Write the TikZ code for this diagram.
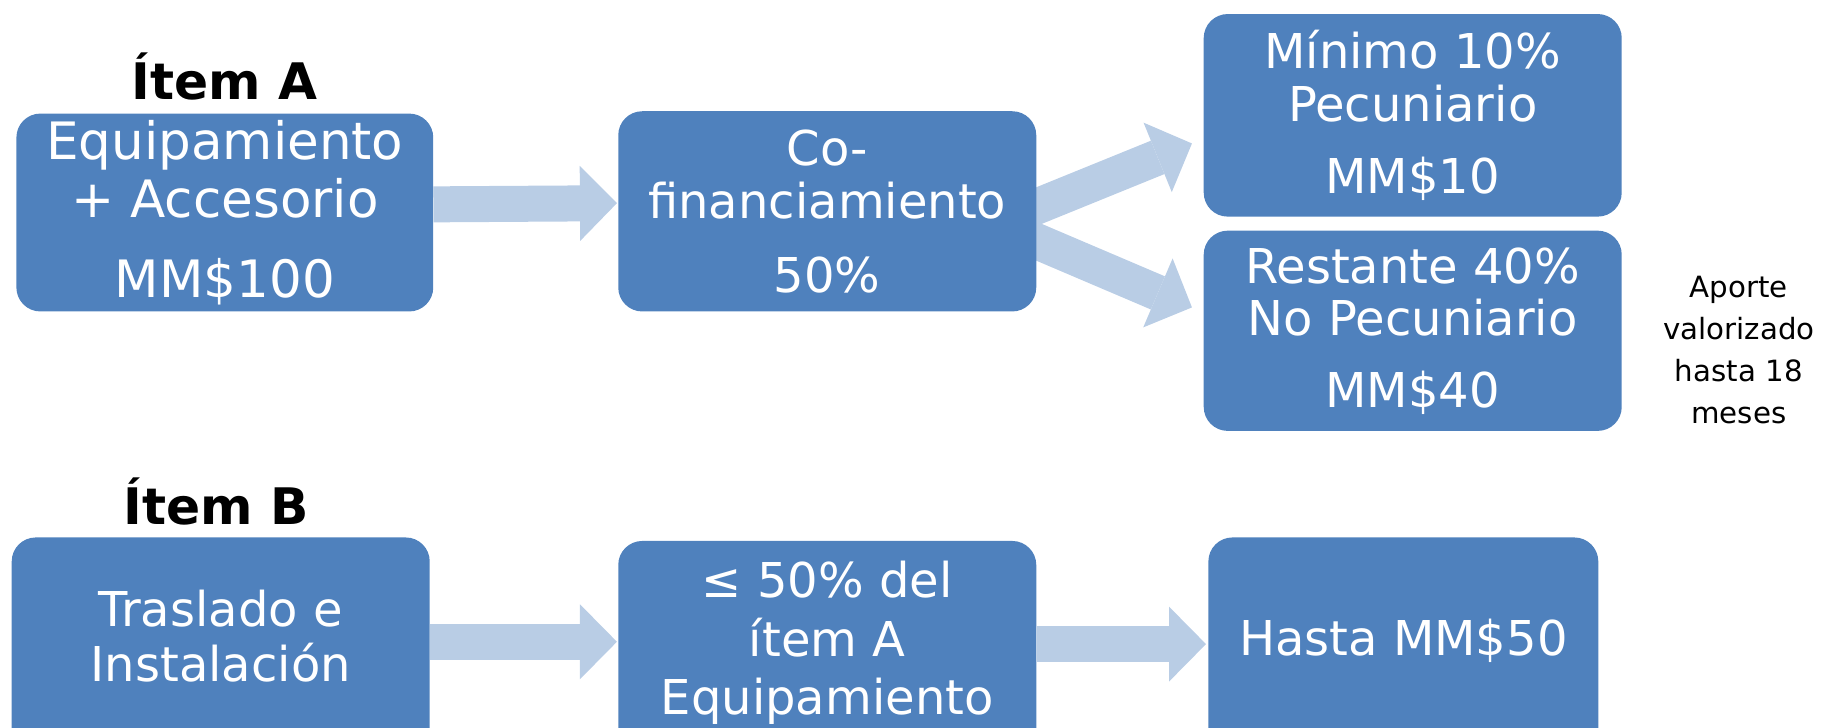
\documentclass[tikz,border=0pt]{standalone}
\usepackage{fontspec}
\setmainfont{DejaVu Sans}
\usetikzlibrary{arrows.meta,calc,backgrounds}
\definecolor{boxblue}{HTML}{4F81BD}
\definecolor{arrowblue}{HTML}{B9CDE5}
\begin{document}
\begin{tikzpicture}[x=1pt,y=-1pt,scale=1.171,
  every node/.append style={transform shape},
  box/.style={fill=boxblue, rounded corners=24pt, inner sep=0pt, text=white,
    align=center, font=\fontsize{41}{45}\selectfont},
  boxtext/.style={text=white, align=center, inner sep=0pt, font=\fontsize{41}{50}\selectfont},
  title/.style={font=\fontsize{43}{46}\selectfont\bfseries, inner sep=0pt},
  note/.style={align=center, inner sep=0pt, font=\fontsize{25}{36}\selectfont},
  fatarrow/.style={draw=arrowblue, line width=36pt,
    -{Triangle[width=75pt,length=37pt,line width=0pt]}}]
\useasboundingbox (0,0) rectangle (1568,621.7);
\clip (0,0) rectangle (1568,621.7);
% titles
\node[title] (tA) at (192,65) {Ítem A};
\node[title] (tB) at (185,428) {Ítem B};
% row A
\node[box, font=\fontsize{44}{50}\selectfont, minimum width=356pt, minimum height=169pt] (a1) at (192,181.5)
  {Equipamiento\\+ Accesorio\\[18pt]MM\$100};
\node[box, minimum width=357pt, minimum height=171pt] (a2) at (706.5,180.5)
  {Co-\\financiamiento\\[18pt]50\%};
\node[box, minimum width=357pt, minimum height=173pt] (a3) at (1206.5,98.5)
  {Mínimo 10\%\\Pecuniario\\[16pt]MM\$10};
\node[box, minimum width=357pt, minimum height=171pt] (a4) at (1206.5,282.5)
  {Restante 40\%\\No Pecuniario\\[16pt]MM\$40};
\node[note] (n) at (1485,299) {Aporte\\valorizado\\hasta 18\\meses};
% row B
\node[box, minimum width=357pt, minimum height=341pt] (b1) at (188.5,629.5) {};
\node[boxtext, font=\fontsize{41}{47}\selectfont] (b1t) at (188.5,543) {Traslado e\\Instalación};
\node[box, minimum width=357pt, minimum height=338pt] (b2) at (706.5,631) {};
\node[boxtext] (b2t) at (706.5,549) {≤ 50\% del\\ítem A\\Equipamiento};
\node[box, minimum width=333pt, minimum height=341pt] (b3) at (1198.5,629.5) {};
\node[boxtext] (b3t) at (1198.5,547) {Hasta MM\$50};
% arrows
\begin{pgfonlayer}{background}
\draw[fatarrow] ($(a1.east)+(0,-7)$) -- ($(a2.west)+(-1,-7)$);
\draw[fatarrow] ($(a2.east)+(-20,4)$) -- ($(a3.west)+(-10,24)$);
\draw[fatarrow] ($(a2.east)+(-20,17)$) -- ($(a4.west)+(-10,-20)$);
\draw[fatarrow] ($(b1.east|-b1t)+(0,5)$) -- ($(b2.west|-b1t)+(-1,5)$);
\draw[fatarrow] ($(b2.east|-b3t)+(0,3)$) -- ($(b3.west|-b3t)+(-2,3)$);
\end{pgfonlayer}
\end{tikzpicture}
\end{document}
